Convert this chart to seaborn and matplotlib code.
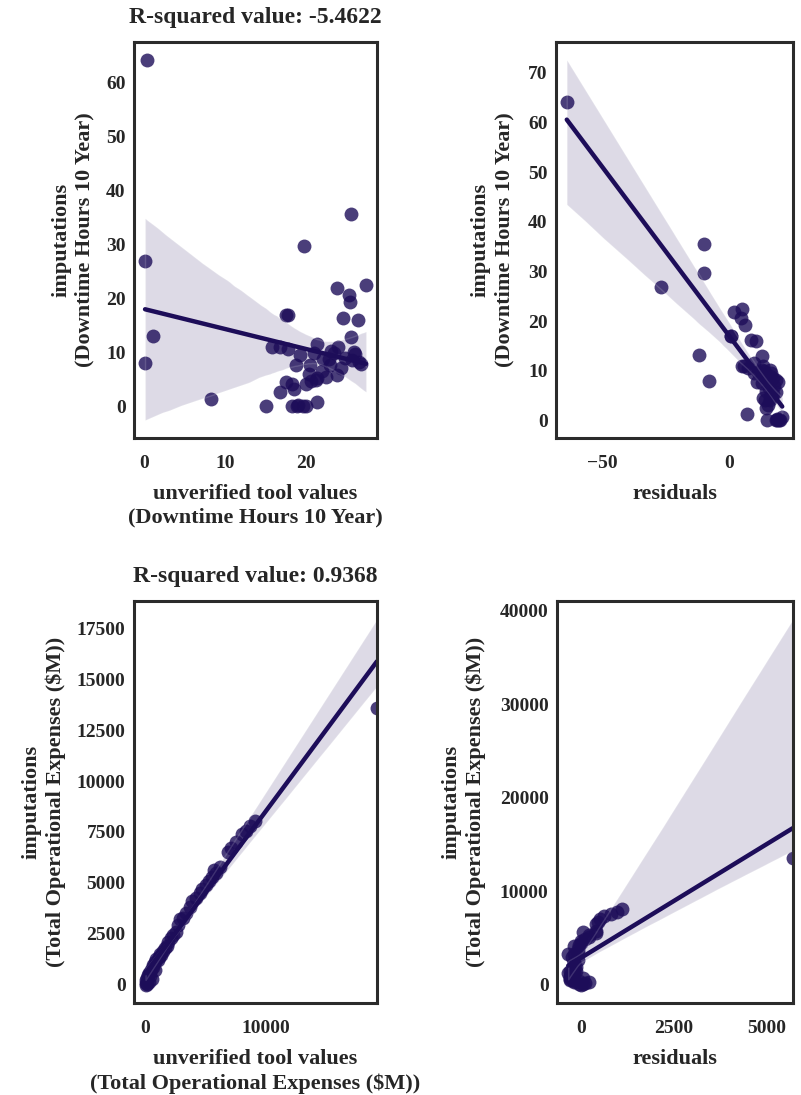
import numpy as np
import pandas as pd
import matplotlib
matplotlib.use("Agg")
import matplotlib.pyplot as plt
from matplotlib.ticker import MultipleLocator
import seaborn as sns

# ---- data: Downtime Hours 10 Year ----
tool_downtime = [0.4, 0.1, 0.1, 1.1, 8.3, 15.0, 18.3, 18.9, 19.6, 20.0, 21.4,
                 16.8, 18.5, 17.5, 18.3, 20.0, 20.6, 21.2, 21.4, 22.5, 23.8,
                 18.7, 20.5, 23.0, 22.1, 22.8, 25.7, 26.5, 19.3, 21.0, 23.1,
                 25.9, 15.8, 16.8, 17.8, 24.0, 21.4, 25.5, 17.5, 17.8, 24.6,
                 26.4, 25.4, 25.3, 23.8, 27.4, 19.7, 25.5, 24.8, 26.8, 22.0,
                 20.3, 24.3, 26.0, 19.0, 23.5]
imputed_downtime = [64.2, 26.9, 8.0, 13.1, 1.4, 0.1, 0.1, 0.1, 0.1, 0.1, 0.7,
                    2.6, 3.2, 4.5, 4.2, 4.2, 4.6, 4.9, 5.2, 5.4, 5.7,
                    7.7, 7.6, 7.6, 8.8, 8.8, 8.5, 8.2, 9.5, 9.8, 10.2,
                    10.1, 11.0, 11.0, 10.6, 11.0, 11.6, 12.9, 17.0, 17.0, 16.3,
                    16.0, 19.3, 20.7, 21.9, 22.5, 29.7, 35.6, 9.0, 7.8, 6.5,
                    6.0, 7.0, 9.6, 0.3, 9.9]

# ---- data: Total Operational Expenses ($M) ----
tool_opex = [0, 30, 60, 100, 150, 200, 250, 300, 350, 420, 500, 580, 650, 750,
             820, 900, 1000, 1100, 1200, 1300, 1450, 1600, 1750, 1900, 2100,
             2250, 2500, 2700, 2900, 3100, 3400, 3700, 3900, 4200, 4500, 4700,
             5000, 5300, 5500, 5700, 5900, 6200, 6900, 7150, 7500, 8000, 8350,
             8750, 9150, 19300]
imputed_opex = [0, 100, 250, 60, 350, 500, 150, 600, 420, 700, 300, 880, 950,
                700, 1100, 1250, 1200, 1350, 1500, 1450, 1650, 1800, 1900, 2100,
                2300, 2450, 2600, 2950, 3250, 3300, 3500, 3800, 4100, 4250, 4500,
                4700, 4900, 5100, 5300, 5650, 5500, 5800, 6500, 6700, 7000, 7400,
                7550, 7800, 8050, 13600]

titles = ["R-squared value: -5.4622", "R-squared value: 0.9368"]
names = ["Downtime Hours 10 Year", "Total Operational Expenses ($M)"]
# tick spacing per panel: (left x, left y, right x, right y)
tick_steps = [(10, 10, 50, 10), (10000, 2500, 2500, 10000)]

COLOR = "#1d0d59"

sns.set_style("white")
plt.rcParams["font.family"] = ["Liberation Serif", "DejaVu Serif"]
plt.rcParams["font.weight"] = "bold"
plt.rcParams["axes.labelweight"] = "bold"
plt.rcParams["axes.titleweight"] = "bold"

W, H = 801, 1095
fig = plt.figure(figsize=(W / 100, H / 100), dpi=100)


def px_axes(l, t, r, b):
    return fig.add_axes([l / W, 1 - b / H, (r - l) / W, (b - t) / H])


axes = [
    (px_axes(134, 42, 377, 438), px_axes(556, 42, 793, 438)),
    (px_axes(134, 601, 377, 1003), px_axes(557, 601, 793, 1003)),
]

datasets = [
    (np.array(tool_downtime, float), np.array(imputed_downtime, float)),
    (np.array(tool_opex, float), np.array(imputed_opex, float)),
]

for i, ((x, y), (axl, axr)) in enumerate(zip(datasets, axes)):
    res = x - y
    sk = dict(s=100, alpha=0.8, linewidths=0)
    lk = dict(lw=3.2)
    sns.regplot(x=x, y=y, ax=axl, color=COLOR, scatter_kws=sk, line_kws=lk, seed=0)
    sns.regplot(x=res, y=y, ax=axr, color=COLOR, scatter_kws=sk, line_kws=lk, seed=0)
    if i == 1:
        axl.set_xlim(right=x.max())
        axr.set_xlim(right=res.max())
    lx, ly, rx, ry = tick_steps[i]
    axl.xaxis.set_major_locator(MultipleLocator(lx))
    axl.yaxis.set_major_locator(MultipleLocator(ly))
    axr.xaxis.set_major_locator(MultipleLocator(rx))
    axr.yaxis.set_major_locator(MultipleLocator(ry))
    axl.set_title(titles[i], fontsize=17, fontweight="bold", pad=14)
    axl.set_xlabel(f"unverified tool values\n({names[i]})", fontsize=16,
                   labelpad=9, linespacing=1.25)
    axl.set_ylabel(f"imputations\n({names[i]})", fontsize=16, labelpad=8,
                   linespacing=1.25)
    axr.set_xlabel("residuals", fontsize=16, labelpad=9)
    axr.set_ylabel(f"imputations\n({names[i]})", fontsize=16, labelpad=10,
                   linespacing=1.25)
    for ax in (axl, axr):
        for sp in ax.spines.values():
            sp.set_linewidth(2.2)
            sp.set_color("#2b2b2b")
        ax.tick_params(axis="both", labelsize=14, length=0)
        ax.tick_params(axis="x", pad=12)
        ax.tick_params(axis="y", pad=6)
        for lab in ax.get_xticklabels() + ax.get_yticklabels():
            lab.set_fontweight("bold")

fig.savefig("out.png", dpi=100)
